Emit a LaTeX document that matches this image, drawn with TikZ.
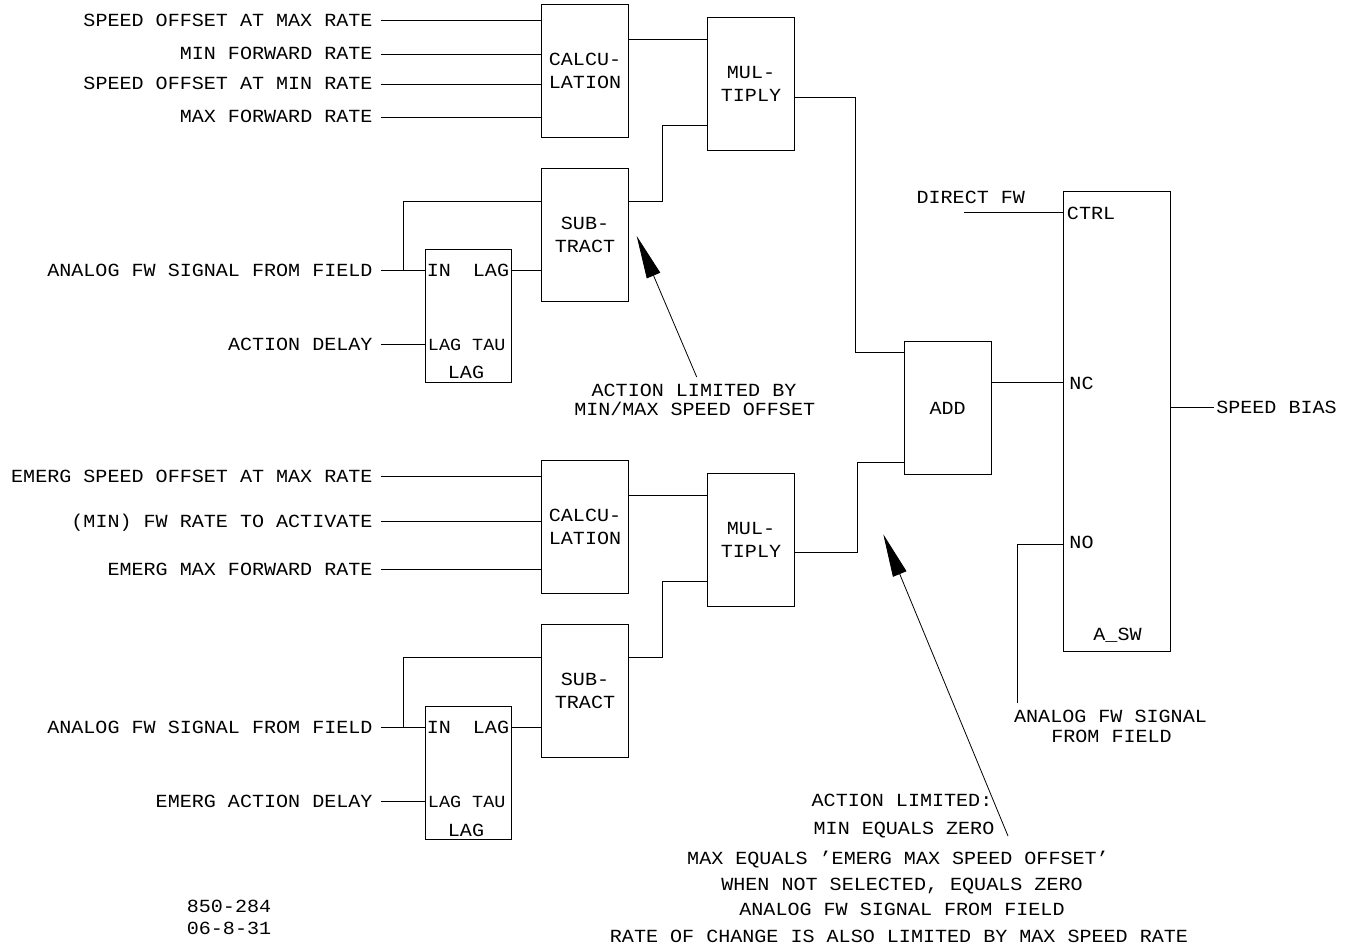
\documentclass[tikz,border=0pt]{standalone}
\usepackage{fontspec}
\newfontfamily\cadfont[FakeStretch=1.085]{Liberation Mono}
\usetikzlibrary{arrows.meta}
\begin{document}
\begin{tikzpicture}[x=1pt,y=-1pt,line width=0.9pt,
  every node/.style={font=\cadfont\fontsize{18.5}{22.5}\selectfont},
  blk/.style={draw,minimum width=86.6pt,align=center,inner sep=0pt},
  lab/.style={text height=12pt,text depth=0pt,inner xsep=8pt,inner ysep=0pt},
  pin/.style={text height=12pt,text depth=0pt,inner xsep=1.5pt,inner ysep=0pt},
  tau/.style={pin,font=\cadfont\fontsize{17}{20}\selectfont},
  txt/.style={text height=12pt,text depth=0pt,inner sep=0pt},
  wire/.style={draw},
  pointer/.style={draw,line width=0.8pt,-{Triangle[length=43pt,width=14.5pt]}}]
\useasboundingbox (0,0) rectangle (1347,949);

% ---------- blocks ----------
\node[blk,minimum height=132.7pt] (calc1) at (585,70.7) {CALCU-\\LATION};
\node[blk,minimum height=133.4pt] (mul1) at (751,84) {MUL-\\TIPLY};
\node[blk,minimum height=132.7pt] (sub1) at (585,234.7) {SUB-\\TRACT};
\node[blk,minimum width=86pt,minimum height=132.7pt] (lag1) at (468,316.3) {};
\node[blk,minimum height=132.6pt] (add) at (947.7,408) {ADD};
\node[blk,minimum width=106.7pt,minimum height=460pt] (asw) at (1116.7,421) {};
\node[blk,minimum height=133pt] (calc2) at (585,526.8) {CALCU-\\LATION};
\node[blk,minimum height=132.7pt] (mul2) at (751,539.7) {MUL-\\TIPLY};
\node[blk,minimum height=132.7pt] (sub2) at (585,690.7) {SUB-\\TRACT};
\node[blk,minimum width=86pt,minimum height=133pt] (lag2) at (468,772.5) {};

% ---------- pin texts ----------
\node[pin,anchor=west] (lag1in) at (425,270.7) {IN};
\node[pin,anchor=east] (lag1out) at (511,270.7) {LAG};
\node[tau,anchor=west] (lag1tau) at (426,344.3) {LAG TAU};
\node[txt] (lag1name) at (466,372.7) {LAG};
\node[pin,anchor=west] (lag2in) at (425,727.7) {IN};
\node[pin,anchor=east] (lag2out) at (511,727.7) {LAG};
\node[tau,anchor=west] (lag2tau) at (426,801.7) {LAG TAU};
\node[txt] (lag2name) at (466,830.7) {LAG};
\node[pin,anchor=west] (ctrl) at (1065,213.3) {CTRL};
\node[pin,anchor=west] (nc) at (1067.5,384) {NC};
\node[pin,anchor=west] (no) at (1067.5,542) {NO};
\node[txt] (aswname) at (1117.5,634.3) {A\_SW};

% ---------- input labels ----------
\node[lab,anchor=east] (i1) at (381,20.7) {SPEED OFFSET AT MAX RATE};
\node[lab,anchor=east] (i2) at (381,54) {MIN FORWARD RATE};
\node[lab,anchor=east] (i3) at (381,84) {SPEED OFFSET AT MIN RATE};
\node[lab,anchor=east] (i4) at (381,117) {MAX FORWARD RATE};
\node[lab,anchor=east] (i5) at (381,270.7) {ANALOG FW SIGNAL FROM FIELD};
\node[lab,anchor=east] (i6) at (381,344.3) {ACTION DELAY};
\node[lab,anchor=east] (e1) at (381,476.7) {EMERG SPEED OFFSET AT MAX RATE};
\node[lab,anchor=east] (e2) at (381,521.7) {(MIN) FW RATE TO ACTIVATE};
\node[lab,anchor=east] (e3) at (381,569.3) {EMERG MAX FORWARD RATE};
\node[lab,anchor=east] (e4) at (381,727.7) {ANALOG FW SIGNAL FROM FIELD};
\node[lab,anchor=east] (e5) at (381,801.7) {EMERG ACTION DELAY};

\node[txt] (dfwlab) at (970.8,197.3) {DIRECT FW};
\coordinate (dfw) at (964.3,212.3);
\node[pin,anchor=west] (bias) at (1214.3,407.3) {SPEED BIAS};
\node[txt] (nolab1) at (1110.5,716.7) {ANALOG FW SIGNAL};
\node[txt] (nolab2) at (1111.5,736) {FROM FIELD};
\coordinate (nofree) at (1017.7,703.3);

% ---------- notes ----------
\node[txt] (n1a) at (694,390.7) {ACTION LIMITED BY};
\node[txt] (n1b) at (694.7,410) {MIN/MAX SPEED OFFSET};
\node[txt] (n2a) at (902,800) {ACTION LIMITED:};
\node[txt] (n2b) at (904,828) {MIN EQUALS ZERO};
\node[txt] (n2c) at (898,858) {MAX EQUALS ’EMERG MAX SPEED OFFSET’};
\node[txt] (n2d) at (902,884) {WHEN NOT SELECTED, EQUALS ZERO};
\node[txt] (n2e) at (902,909) {ANALOG FW SIGNAL FROM FIELD};
\node[txt] (n2f) at (899,936) {RATE OF CHANGE IS ALSO LIMITED BY MAX SPEED RATE};
\node[txt] (dwg1) at (229,906) {850-284};
\node[txt] (dwg2) at (229,928) {06-8-31};

% ---------- wires: top section ----------
\draw[wire] (i1.east) -- (i1.east -| calc1.west);
\draw[wire] (i2.east) -- (i2.east -| calc1.west);
\draw[wire] (i3.east) -- (i3.east -| calc1.west);
\draw[wire] (i4.east) -- (i4.east -| calc1.west);
\draw[wire] (calc1.east |- 0,39.3) -- (mul1.west |- 0,39.3);
\draw[wire] (mul1.east |- 0,97.7) -- (855.7,97.7) -- (855.7,352.7) -- (add.west |- 0,352.7);
\draw[wire] (sub1.east |- 0,201.7) -- (662.7,201.7) -- (662.7,125.7) -- (mul1.west |- 0,125.7);
\draw[wire] (i5.east) -- (lag1.west |- i5.east);
\coordinate (j1) at (403.7,270.7);
\draw[wire] (j1) -- (403.7,201.7) -- (sub1.west |- 0,201.7);
\draw[wire] (lag1.east |- lag1out) -- (sub1.west |- lag1out);
\draw[wire] (i6.east) -- (lag1.west |- i6.east);

% ---------- wires: bottom section ----------
\draw[wire] (e1.east) -- (e1.east -| calc2.west);
\draw[wire] (e2.east) -- (e2.east -| calc2.west);
\draw[wire] (e3.east) -- (e3.east -| calc2.west);
\draw[wire] (calc2.east |- 0,495) -- (mul2.west |- 0,495);
\draw[wire] (mul2.east |- 0,552.7) -- (857.3,552.7) -- (857.3,462) -- (add.west |- 0,462);
\draw[wire] (sub2.east |- 0,657.7) -- (662.7,657.7) -- (662.7,581.7) -- (mul2.west |- 0,581.7);
\draw[wire] (e4.east) -- (lag2.west |- e4.east);
\coordinate (j2) at (403.7,727.7);
\draw[wire] (j2) -- (403.7,657.7) -- (sub2.west |- 0,657.7);
\draw[wire] (lag2.east |- lag2out) -- (sub2.west |- lag2out);
\draw[wire] (e5.east) -- (lag2.west |- e5.east);

% ---------- wires: switch ----------
\draw[wire] (dfw) -- (asw.west |- dfw);
\draw[wire] (add.east |- 0,382) -- (asw.west |- 0,382);
\draw[wire] (asw.east |- bias.west) -- (bias.west);
\draw[wire] (nofree) -- (1017.7,544) -- (asw.west |- 0,544);

% ---------- pointers ----------
\coordinate (p1t) at (696.7,377);
\coordinate (p1h) at (636.7,236);
\draw[pointer] (p1t) -- (p1h);
\coordinate (p2t) at (1008,836);
\coordinate (p2h) at (883.3,534.3);
\draw[pointer] (p2t) -- (p2h);
\end{tikzpicture}
\end{document}
